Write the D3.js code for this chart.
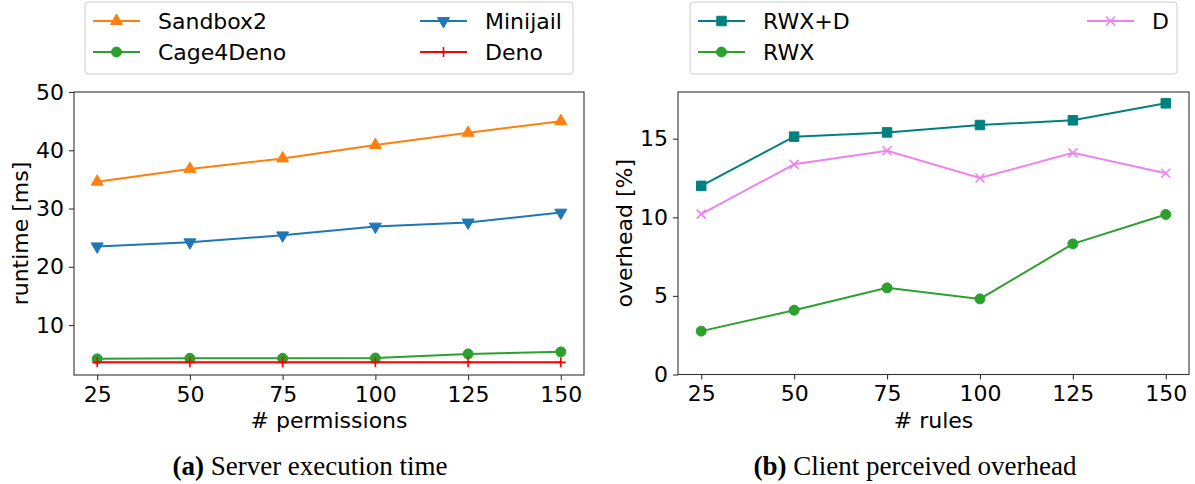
<!DOCTYPE html>
<html>
<head>
<meta charset="utf-8">
<script src="https://cdn.jsdelivr.net/npm/d3@7"></script>
<style>
  body { margin: 0; background: #fff; }
  svg { display: block; }
  .tick text { font-family: "DejaVu Sans", sans-serif; font-size: 22px; fill: #000; }
  .lbl { font-family: "DejaVu Sans", sans-serif; font-size: 22px; fill: #000; }
  .cap { font-family: "Liberation Serif", "Times New Roman", serif; font-size: 27px; fill: #000; }
</style>
</head>
<body>
<svg id="svg" width="1195" height="484"></svg>
<script>
// data
const xValues = [25, 50, 75, 100, 125, 150]

const sandbox2 = [34.6, 36.8, 38.6, 40.9, 43.0, 45.0]
const minijail = [23.5, 24.2, 25.4, 26.9, 27.6, 29.3]
const cage4deno = [4.2, 4.3, 4.3, 4.35, 5.05, 5.4]
const deno = [3.6, 3.6, 3.6, 3.6, 3.6, 3.6]

const rwxD = [12.0, 15.13, 15.4, 15.87, 16.17, 17.25]
const rwx = [2.76, 4.09, 5.51, 4.81, 8.31, 10.18]
const dOnly = [10.2, 13.37, 14.23, 12.5, 14.1, 12.8]

const leftYTicks = [10, 20, 30, 40, 50]
const rightYTicks = [0, 5, 10, 15]

const $svg = d3.select('#svg')

// marker shapes
const markerPath = (kind, size) => {
	if (kind === 'up' || kind === 'down') return d3.symbol(d3.symbolTriangle, size)()
	if (kind === 'circle') return d3.symbol(d3.symbolCircle, size)()
	if (kind === 'square') return d3.symbol(d3.symbolSquare, size)()
	if (kind === 'plus') return 'M-5,0L5,0M0,-5L0,5'
	if (kind === 'x') return 'M-4.5,-4.5L4.5,4.5M-4.5,4.5L4.5,-4.5'
}

const drawMarker = ($g, kind, color, x, y) => {
	const stroked = kind === 'plus' || kind === 'x'
	const size = kind === 'circle' ? 78 : (kind === 'square' ? 90 : 62)
	$g.append('path')
		.attr('d', markerPath(kind, size))
		.attr('transform', `translate(${x},${y})` + (kind === 'down' ? ' rotate(180)' : ''))
		.attr('fill', stroked ? 'none' : color)
		.attr('stroke', color)
		.attr('stroke-width', stroked ? 1.6 : 1)
}

const createPanel = ({ left, right, top, bottom, yDomain, yTicks, xLabel, yLabel, yLabelX, series }) => {
	const $g = $svg.append('g')

	const scaleX = d3.scaleLinear().domain([18.75, 156.25]).range([left, right])
	const scaleY = d3.scaleLinear().domain(yDomain).range([bottom, top])

	const $xAxis = $g.append('g')
		.attr('transform', `translate(0,${bottom})`)
		.call(d3.axisBottom(scaleX).tickValues(xValues).tickSize(5).tickPadding(5))
	const $yAxis = $g.append('g')
		.attr('transform', `translate(${left},0)`)
		.call(d3.axisLeft(scaleY).tickValues(yTicks).tickSize(5).tickPadding(5))
	;[$xAxis, $yAxis].forEach($a => {
		$a.select('.domain').remove()
		$a.selectAll('.tick line').attr('stroke', '#333').attr('stroke-width', 1.1)
	})
	$xAxis.selectAll('.tick text').attr('dy', '0.76em')

	// frame
	$g.append('rect')
		.attr('x', left).attr('y', top)
		.attr('width', right - left).attr('height', bottom - top)
		.attr('fill', 'none').attr('stroke', '#333').attr('stroke-width', 1.1)

	const drawLine = d3.line()
		.x((v, i) => scaleX(xValues[i]))
		.y(v => scaleY(v))

	series.forEach(s => {
		$g.append('path')
			.attr('d', drawLine(s.values))
			.attr('fill', 'none')
			.attr('stroke', s.color)
			.attr('stroke-width', 2)
		s.values.forEach((v, i) => drawMarker($g, s.marker, s.color, scaleX(xValues[i]), scaleY(v)))
	})

	$g.append('text').attr('class', 'lbl')
		.attr('x', (left + right) / 2).attr('y', 428)
		.attr('text-anchor', 'middle')
		.text(xLabel)
	$g.append('text').attr('class', 'lbl')
		.attr('transform', `translate(${yLabelX},${(top + bottom) / 2}) rotate(-90)`)
		.attr('text-anchor', 'middle')
		.text(yLabel)
}

const createLegend = ({ x, y, w, h, items }) => {
	const $g = $svg.append('g')
	$g.append('rect')
		.attr('x', x).attr('y', y).attr('width', w).attr('height', h)
		.attr('rx', 3)
		.attr('fill', '#fff').attr('stroke', '#ccc').attr('stroke-width', 1)
	items.forEach(it => {
		$g.append('line')
			.attr('x1', it.lx).attr('x2', it.lx + 47)
			.attr('y1', it.ly).attr('y2', it.ly)
			.attr('stroke', it.color).attr('stroke-width', 2)
		drawMarker($g, it.marker, it.color, it.lx + 23.5, it.ly)
		$g.append('text').attr('class', 'lbl')
			.attr('x', it.lx + 65).attr('y', it.ly + 8)
			.text(it.name)
	})
}

createPanel({
	left: 74, right: 584, top: 92, bottom: 375,
	yDomain: [1.43, 50], yTicks: leftYTicks,
	xLabel: '# permissions', yLabel: 'runtime [ms]', yLabelX: 28,
	series: [
		{ values: sandbox2, color: '#ff7f0e', marker: 'up' },
		{ values: minijail, color: '#1f77b4', marker: 'down' },
		{ values: cage4deno, color: '#2ca02c', marker: 'circle' },
		{ values: deno, color: '#ff0000', marker: 'plus' }
	]
})

createPanel({
	left: 678, right: 1189, top: 92, bottom: 374.5,
	yDomain: [0, 17.97], yTicks: rightYTicks,
	xLabel: '# rules', yLabel: 'overhead [%]', yLabelX: 632,
	series: [
		{ values: rwxD, color: '#008080', marker: 'square' },
		{ values: rwx, color: '#2ca02c', marker: 'circle' },
		{ values: dOnly, color: '#ee82ee', marker: 'x' }
	]
})

createLegend({
	x: 85, y: 2, w: 488, h: 72,
	items: [
		{ name: 'Sandbox2', color: '#ff7f0e', marker: 'up', lx: 93, ly: 21 },
		{ name: 'Cage4Deno', color: '#2ca02c', marker: 'circle', lx: 93, ly: 52 },
		{ name: 'Minijail', color: '#1f77b4', marker: 'down', lx: 420, ly: 21 },
		{ name: 'Deno', color: '#ff0000', marker: 'plus', lx: 420, ly: 52 }
	]
})

createLegend({
	x: 690, y: 2, w: 487, h: 72,
	items: [
		{ name: 'RWX+D', color: '#008080', marker: 'square', lx: 698, ly: 21 },
		{ name: 'RWX', color: '#2ca02c', marker: 'circle', lx: 698, ly: 52 },
		{ name: 'D', color: '#ee82ee', marker: 'x', lx: 1087, ly: 21 }
	]
})

// captions
const captions = [
	{ tag: '(a)', text: ' Server execution time', cx: 310 },
	{ tag: '(b)', text: ' Client perceived overhead', cx: 915 }
]
captions.forEach(c => {
	const $t = $svg.append('text').attr('class', 'cap')
		.attr('x', c.cx).attr('y', 475)
		.attr('text-anchor', 'middle')
	$t.append('tspan').attr('font-weight', 'bold').text(c.tag)
	$t.append('tspan').text(c.text)
})
</script>
</body>
</html>
